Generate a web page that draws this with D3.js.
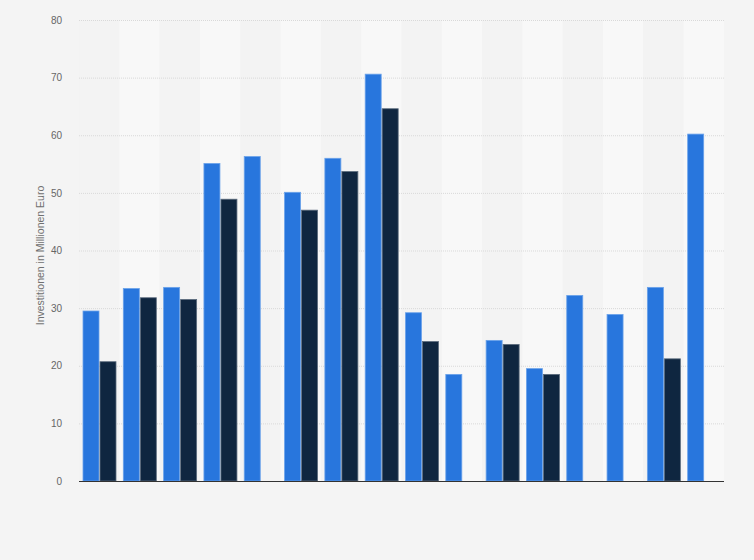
<!DOCTYPE html>
<html>
<head>
<meta charset="utf-8">
<script src="https://cdn.jsdelivr.net/npm/d3@7"></script>
<style>
  body { margin: 0; background: #f4f4f4; }
  svg { display: block; font-family: "Liberation Sans", Arial, sans-serif; }
</style>
</head>
<body>
<svg width="754" height="560"></svg>
<script>
// categories carry no visible labels in the picture
var categories = ["1", "2", "3", "4", "5", "6", "7", "8", "9", "10", "11", "12", "13", "14", "15", "16"];
var series1 = [29.5, 33.4, 33.6, 55.1, 56.3, 50.1, 56.0, 70.6, 29.2, 18.5, 24.4, 19.5, 32.2, 28.9, 33.6, 60.2];
var series2 = [20.7, 31.8, 31.5, 48.9, null, 47.0, 53.7, 64.6, 24.2, null, 23.7, 18.5, null, null, 21.2, null];
var yTicks = [0, 10, 20, 30, 40, 50, 60, 70, 80];

var svg = d3.select("svg"),
    margin = { top: 20, right: 30, bottom: 79, left: 79 },
    width = 754 - margin.left - margin.right,
    height = 560 - margin.top - margin.bottom;

var g = svg.append("g")
    .attr("transform", "translate(" + margin.left + "," + margin.top + ")");

var xScale = d3.scaleBand().domain(categories).range([0, width]);
var yScale = d3.scaleLinear().domain([0, 80]).range([height, 0]);

// alternating column stripes
g.selectAll(".stripe")
    .data(categories)
    .enter()
    .append("rect")
    .attr("x", function (d) { return xScale(d); })
    .attr("y", 0)
    .attr("width", xScale.bandwidth())
    .attr("height", height)
    .attr("fill", function (d, i) { return i % 2 ? "#f8f8f8" : "#f3f3f3"; });

// grid lines
g.selectAll(".grid")
    .data(yTicks.slice(1))
    .enter()
    .append("line")
    .attr("x1", 0)
    .attr("x2", width)
    .attr("y1", function (d) { return yScale(d) + 0.5; })
    .attr("y2", function (d) { return yScale(d) + 0.5; })
    .attr("stroke", "#d9d9d9")
    .attr("stroke-dasharray", "1,1");

// y axis labels
g.append("g")
    .call(d3.axisLeft(yScale).tickValues(yTicks).tickSize(0).tickPadding(17))
    .call(function (a) {
        a.select(".domain").remove();
        a.selectAll("text").attr("fill", "#666").attr("font-size", "10px");
    });

g.append("text")
    .attr("transform", "rotate(-90)")
    .attr("x", -height / 2 - 5)
    .attr("y", -35)
    .attr("text-anchor", "middle")
    .attr("fill", "#707070")
    .attr("font-size", "10.5px")
    .text("Investitionen in Millionen Euro");

var barW = 16;

g.selectAll(".bar1")
    .data(series1)
    .enter()
    .append("rect")
    .attr("x", function (d, i) { return xScale(categories[i]) + 4; })
    .attr("y", function (d) { return yScale(d); })
    .attr("width", barW)
    .attr("height", function (d) { return height - yScale(d); })
    .attr("fill", "#2876dd")
    .attr("stroke", "#6aa2ea")
    .attr("stroke-width", 0.8);

g.selectAll(".bar2")
    .data(series2)
    .enter()
    .filter(function (d) { return d != null; })
    .append("rect")
    .attr("x", function (d, i) { return xScale(categories[series2.indexOf(d)]) + 21; })
    .attr("y", function (d) { return yScale(d); })
    .attr("width", barW)
    .attr("height", function (d) { return height - yScale(d); })
    .attr("fill", "#0f2640")
    .attr("stroke", "#5b6b7d")
    .attr("stroke-width", 0.8);

// baseline
g.append("line")
    .attr("x1", 0)
    .attr("x2", width)
    .attr("y1", height + 0.5)
    .attr("y2", height + 0.5)
    .attr("stroke", "#333")
    .attr("stroke-width", 1);
</script>
</body>
</html>
